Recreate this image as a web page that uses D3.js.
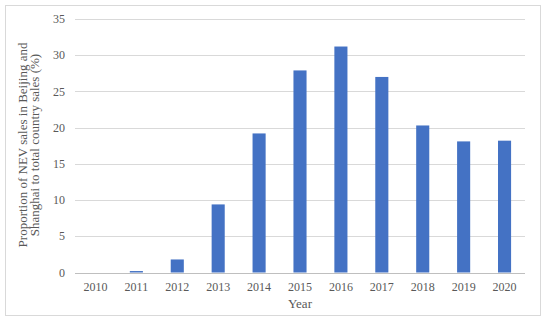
<!DOCTYPE html>
<html>
	<head>
		<title>NEV sales share</title>
		<script src="https://cdn.jsdelivr.net/npm/d3@7"></script>
		<style type="text/css">
			body {
				margin: 0;
				background: #fff;
			}
			text {
				font-family: "Liberation Serif", "Times New Roman", serif;
				fill: #595959;
			}
		</style>
	</head>
	<body>
		<script type="text/javascript">
			var years = ["2010", "2011", "2012", "2013", "2014", "2015", "2016", "2017", "2018", "2019", "2020"];
			var share = [0, 0.2, 1.8, 9.4, 19.2, 27.9, 31.2, 27.0, 20.3, 18.1, 18.2];
			var yTicks = [0, 5, 10, 15, 20, 25, 30, 35];

			var w = 550;
			var h = 322;
			var plotLeft = 75, plotRight = 525, plotTop = 19, plotBottom = 272.5;

			var svg = d3.select("body")
				.append("svg")
					.attr("width", w)
					.attr("height", h);

			// chart frame
			svg.append("rect")
				.attr("x", 5.5)
				.attr("y", 5.5)
				.attr("width", 535)
				.attr("height", 310)
				.attr("fill", "#fff")
				.attr("stroke", "#d9d9d9")
				.attr("stroke-width", 1);

			var x = d3.scaleBand()
				.domain(years)
				.range([plotLeft, plotRight])
				.paddingInner(0.68)
				.paddingOuter(0.34);

			var y = d3.scaleLinear()
				.domain([0, 35])
				.range([plotBottom, plotTop]);

			// gridlines
			svg.append("g")
				.selectAll("line")
				.data(yTicks)
				.enter().append("line")
					.attr("x1", plotLeft)
					.attr("x2", plotRight)
					.attr("y1", function (d) { return Math.round(y(d)) + 0.5; })
					.attr("y2", function (d) { return Math.round(y(d)) + 0.5; })
					.attr("stroke", function (d) { return d === 0 ? "#bfbfbf" : "#d9d9d9"; })
					.attr("stroke-width", 1);

			// y tick labels
			svg.append("g")
				.selectAll("text")
				.data(yTicks)
				.enter().append("text")
					.attr("x", 65)
					.attr("y", function (d) { return y(d); })
					.attr("dy", "0.35em")
					.attr("text-anchor", "end")
					.attr("font-size", 12)
					.text(function (d) { return d; });

			// bars
			svg.append("g")
				.selectAll("rect")
				.data(share)
				.enter().append("rect")
					.attr("x", function (d, i) { return x(years[i]); })
					.attr("width", x.bandwidth())
					.attr("y", function (d) { return y(d); })
					.attr("height", function (d) { return y(0) - y(d); })
					.attr("fill", "#4472c4");

			// x tick labels
			svg.append("g")
				.selectAll("text")
				.data(years)
				.enter().append("text")
					.attr("x", function (d) { return x(d) + x.bandwidth() / 2; })
					.attr("y", 291)
					.attr("text-anchor", "middle")
					.attr("font-size", 12)
					.text(function (d) { return d; });

			svg.append("text")
				.attr("x", (plotLeft + plotRight) / 2)
				.attr("y", 308)
				.attr("text-anchor", "middle")
				.attr("font-size", 13)
				.text("Year");

			var yTitle = svg.append("text")
				.attr("transform", "translate(27," + 145 + ") rotate(-90)")
				.attr("text-anchor", "middle")
				.attr("font-size", 13);
			yTitle.append("tspan")
				.attr("x", 0)
				.attr("dy", "0em")
				.text("Proportion of NEV sales in Beijing and");
			yTitle.append("tspan")
				.attr("x", 0)
				.attr("dy", "0.9em")
				.text("Shanghai to total country sales (%)");
		</script>
	</body>
</html>
